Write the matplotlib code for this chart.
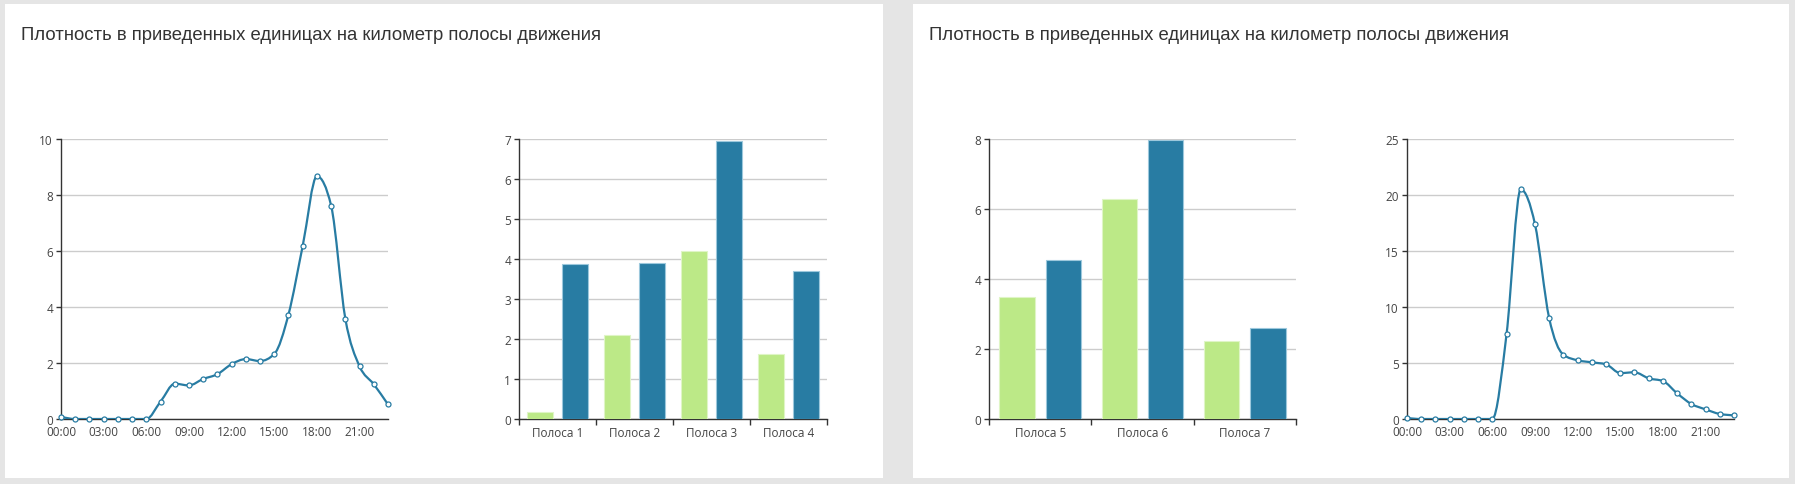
import numpy as np
import matplotlib.pyplot as plt
from matplotlib.path import Path
from matplotlib.patches import PathPatch, Rectangle

# Данные
hours = list(range(24))
hour_labels = ['00:00', '03:00', '06:00', '09:00', '12:00', '15:00', '18:00', '21:00']

density_left = [0.08, 0, 0, 0, 0, 0, 0, 0.62, 1.26, 1.20, 1.43, 1.60, 1.96, 2.14,
                2.07, 2.32, 3.73, 6.18, 8.67, 7.62, 3.58, 1.88, 1.24, 0.52]
density_right = [0.09, 0, 0, 0, 0, 0, 0, 7.56, 20.5, 17.4, 9.0, 5.74, 5.24, 5.06,
                 4.88, 4.10, 4.17, 3.63, 3.39, 2.29, 1.34, 0.86, 0.45, 0.33]

lanes_a = ['Полоса 1', 'Полоса 2', 'Полоса 3', 'Полоса 4']
green_a = [0.17, 2.11, 4.20, 1.63]
blue_a = [3.88, 3.90, 6.95, 3.70]

lanes_b = ['Полоса 5', 'Полоса 6', 'Полоса 7']
green_b = [3.50, 6.30, 2.24]
blue_b = [4.53, 7.97, 2.60]

title = 'Плотность в приведенных единицах на километр полосы движения'

BLUE = '#287ca3'
GREEN = '#bce987'
TXT = '#333333'
GRID = '#cccccc'

W, H = 1795, 485
fig = plt.figure(figsize=(W / 100, H / 100), dpi=100, facecolor='#e5e5e5')

# белые панели
for x0, x1 in [(5, 883), (913, 1789)]:
    fig.patches.append(Rectangle((x0 / W, (H - 479) / H), (x1 - x0) / W, 474 / H,
                                 transform=fig.transFigure, facecolor='white',
                                 edgecolor='none', zorder=-5))
    fig.text((x0 + 16) / W, 1 - 35 / H, title, fontsize=13.3, color=TXT,
             family='Liberation Sans', va='center', ha='left')


def px_axes(x0, x1):
    ax = fig.add_axes([x0 / W, (H - 420) / H, (x1 - x0) / W, 280 / H])
    ax.set_zorder(2)
    return ax


def style(ax):
    ax.set_facecolor('none')
    for s in ['top', 'right']:
        ax.spines[s].set_visible(False)
    for s in ['left', 'bottom']:
        ax.spines[s].set_color(TXT)
        ax.spines[s].set_linewidth(1)
    ax.yaxis.grid(True, color=GRID, linewidth=1)
    ax.set_axisbelow(True)
    ax.tick_params(axis='y', colors=TXT, labelcolor='#444444', labelsize=8.5,
                   length=3.8, width=1, pad=2)
    ax.tick_params(axis='x', which='both', colors=TXT, labelcolor='#444444',
                   labelsize=8.5, width=1)
    for lab in ax.get_xticklabels(which='both') + ax.get_yticklabels():
        lab.set_family('Open Sans')


def monotone_path(x, y):
    # кривая как d3.curveMonotoneX
    x = np.asarray(x, float)
    y = np.asarray(y, float)
    n = len(x)
    h = np.diff(x)
    s = np.diff(y) / h
    t = np.zeros(n)
    for i in range(1, n - 1):
        p = (s[i - 1] * h[i] + s[i] * h[i - 1]) / (h[i - 1] + h[i])
        t[i] = (np.sign(s[i - 1]) + np.sign(s[i])) * min(abs(s[i - 1]), abs(s[i]), 0.5 * abs(p))
    t[0] = (3 * s[0] - t[1]) / 2
    t[-1] = (3 * s[-1] - t[-2]) / 2
    verts = [(x[0], y[0])]
    codes = [Path.MOVETO]
    for i in range(n - 1):
        dx = h[i] / 3
        verts += [(x[i] + dx, y[i] + dx * t[i]), (x[i + 1] - dx, y[i + 1] - dx * t[i + 1]),
                  (x[i + 1], y[i + 1])]
        codes += [Path.CURVE4] * 3
    return Path(verts, codes)


def line_chart(ax, values, ymax, ystep):
    ax.add_patch(PathPatch(monotone_path(hours, values), facecolor='none',
                           edgecolor=BLUE, linewidth=1.6, zorder=3))
    ax.plot(hours, values, linestyle='none', marker='o', markersize=3.6,
            markerfacecolor='white', markeredgecolor=BLUE, markeredgewidth=0.9,
            zorder=4, clip_on=False)
    ax.set_xlim(0, 23)
    ax.set_ylim(0, ymax)
    ax.set_yticks(np.arange(0, ymax + 0.1, ystep))
    ax.set_xticks(hours[::3])
    ax.set_xticklabels(hour_labels)
    style(ax)
    ax.tick_params(axis='x', length=0, pad=4.5)


def bar_chart(ax, lanes, green, blue, ymax, ystep):
    pos = np.arange(len(lanes)) + 0.5
    ax.bar(pos - 0.227, green, width=0.346, color=GREEN, edgecolor='#dff5c6',
           linewidth=0.8, zorder=3)
    ax.bar(pos + 0.227, blue, width=0.346, color=BLUE, edgecolor='#9cc8dc',
           linewidth=0.8, zorder=3)
    ax.set_xlim(0, len(lanes))
    ax.set_ylim(0, ymax)
    ax.set_yticks(np.arange(0, ymax + 0.1, ystep))
    ax.set_xticks(np.arange(len(lanes) + 1))
    ax.set_xticklabels([])
    ax.set_xticks(pos, minor=True)
    ax.set_xticklabels(lanes, minor=True)
    style(ax)
    ax.tick_params(axis='x', which='major', length=4)
    ax.tick_params(axis='x', which='minor', length=0, pad=5)


line_chart(px_axes(61, 388), density_left, 10, 2)
bar_chart(px_axes(519, 827), lanes_a, green_a, blue_a, 7, 1)
bar_chart(px_axes(989, 1296), lanes_b, green_b, blue_b, 8, 2)
line_chart(px_axes(1407, 1734), density_right, 25, 5)

fig.savefig('out.png', dpi=100, facecolor=fig.get_facecolor())
